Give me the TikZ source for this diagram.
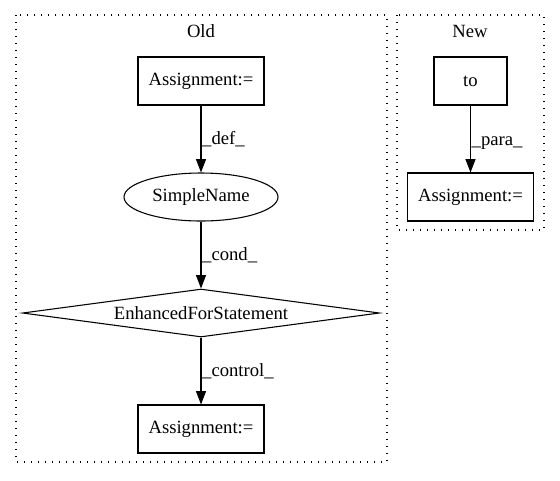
\documentclass[tikz,border=0pt]{standalone}
\usepackage{fontspec}
\setmainfont{Liberation Serif}
\usepackage{tikz}
\usetikzlibrary{shapes.geometric, arrows.meta, positioning}

\begin{document}
\begin{tikzpicture}[
    x=0.75pt, y=-0.75pt,
    every node/.style={font=\fontsize{14}{16}\selectfont},
    stmt/.style={draw, line width=0.8pt, minimum width=94.5pt, minimum height=36pt, inner sep=0pt},
    namenode/.style={draw, ellipse, line width=0.8pt, minimum width=115.5pt, minimum height=36pt, inner sep=0pt},
    loopnode/.style={draw, diamond, aspect=7.4, line width=0.8pt, minimum width=267.75pt, minimum height=36pt, inner sep=0pt},
    cluster/.style={draw, line width=0.8pt, dash pattern=on 0.9pt off 4.35pt},
    arrow/.style={-{Triangle[length=10pt, width=7.5pt]}, line width=0.8pt},
    elabel/.style={midway, right, inner sep=0.5pt}
]
    \useasboundingbox (0,0) rectangle (560,480);

    % Clusters
    \draw[cluster] (16,15) rectangle (387,462);
    \node (oldlbl) at (201,31) {Old};
    \draw[cluster] (397,15) rectangle (544,230);
    \node (newlbl) at (470,31) {New};

    % Old side
    \node[stmt] (assignA) at (201,81) {Assignment:=};
    \node[namenode] (simple) at (201,197) {SimpleName};
    \node[loopnode] (efs) at (201,313) {EnhancedForStatement};
    \node[stmt] (assignB) at (201,429) {Assignment:=};

    % New side
    \node[stmt, minimum width=54.75pt] (to) at (470.5,81) {to};
    \node[stmt] (assignC) at (470.5,197) {Assignment:=};

    % Connections
    \draw[arrow] (assignA) -- node[elabel] {\_def\_} (simple);
    \draw[arrow] (simple) -- node[elabel] {\_cond\_} (efs);
    \draw[arrow] (efs) -- node[elabel] {\_control\_} (assignB);
    \draw[arrow] (to) -- node[elabel, yshift=-3pt] {\_para\_} (assignC);
\end{tikzpicture}
\end{document}
